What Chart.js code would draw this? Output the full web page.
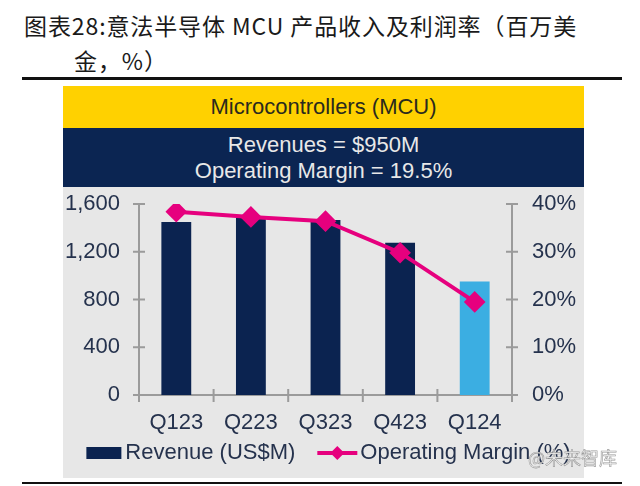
<!DOCTYPE html>
<html lang="zh">
<head>
  <meta charset="UTF-8" />
  <title>意法半导体 MCU 产品收入及利润率</title>
  <script src="https://cdn.jsdelivr.net/npm/chart.js"></script>
  <style>
    body {
      margin: 0;
      width: 640px;
      height: 486px;
      background: #fff;
      position: relative;
      overflow: hidden;
      font-family: "Liberation Sans", Arial, sans-serif;
    }
    .title {
      position: absolute;
      left: 24px;
      top: 8px;
      width: 590px;
      font-family: "Noto Sans CJK SC", sans-serif;
      font-size: 23px;
      line-height: 35px;
      color: #1a1a1a;
      letter-spacing: 0.9px;
    }
    .title .l2 { padding-left: 50px; }
    .rule-top {
      position: absolute;
      left: 22px; top: 77px;
      width: 600px; height: 3px;
      background: #111;
    }
    .rule-bottom {
      position: absolute;
      left: 22px; top: 482px;
      width: 600px; height: 2px;
      background: #111;
    }
    .band-yellow {
      position: absolute;
      left: 63px; top: 86px;
      width: 521px; height: 42px;
      background: #FFD100;
      color: #2a2a1e;
      font-size: 22px;
      text-align: center;
      line-height: 42px;
    }
    .band-navy {
      position: absolute;
      left: 63px; top: 128px;
      width: 521px; height: 59px;
      background: #0B2552;
      color: #e8e8e8;
      font-size: 22px;
      text-align: center;
      line-height: 26px;
      padding-top: 4px;
      box-sizing: border-box;
    }
    .panel {
      position: absolute;
      left: 63px; top: 187px;
      width: 521px; height: 291px;
      background: #E7E7E7;
    }
    .watermark {
      position: absolute;
      left: 528px; top: 444px;
      font-family: "Noto Sans CJK SC", sans-serif;
      font-size: 18px;
      color: #f4f4f4;
      -webkit-text-stroke: 0.6px #9a9a9a;
    }
  </style>
</head>
<body>
  <div class="title">图表28:意法半导体 MCU 产品收入及利润率（百万美<br><span class="l2">金，%）</span></div>
  <div class="rule-top"></div>
  <div class="band-yellow">Microcontrollers (MCU)</div>
  <div class="band-navy">Revenues = $950M<br>Operating Margin = 19.5%</div>
  <div class="panel"><canvas id="mcuChart" width="521" height="291"></canvas></div>
  <div class="watermark">@未来智库</div>
  <div class="rule-bottom"></div>

  <script>
    const quarters = ['Q123', 'Q223', 'Q323', 'Q423', 'Q124'];
    const revenue = [1450, 1490, 1465, 1275, 950];
    const margin = [38.4, 37.3, 36.4, 29.8, 19.5];
    const barColors = ['#0B2350', '#0B2350', '#0B2350', '#0B2350', '#3BAEE2'];

    const revenueLabel = 'Revenue (US$M)';
    const marginLabel = 'Operating Margin (%)';

    const navy = '#0B2350';
    const pink = '#E6007E';
    const axisGray = '#9b9b9b';
    const labelColor = '#25324d';
    const fontFamily = '"Liberation Sans", Arial, sans-serif';

    // axis lines with short ticks crossing them, like the original
    const crossTicks = {
      id: 'crossTicks',
      afterDraw(chart) {
        const { ctx, chartArea: a, scales } = chart;
        ctx.save();
        ctx.strokeStyle = axisGray;
        ctx.lineWidth = 2;
        ctx.beginPath();
        scales.y.ticks.forEach(t => {
          const y = scales.y.getPixelForValue(t.value);
          ctx.moveTo(a.left - 6, y); ctx.lineTo(a.left + 6, y);
        });
        scales.y1.ticks.forEach(t => {
          const y = scales.y1.getPixelForValue(t.value);
          ctx.moveTo(a.right - 6, y); ctx.lineTo(a.right + 6, y);
        });
        const w = (a.right - a.left) / quarters.length;
        for (let i = 0; i <= quarters.length; i++) {
          const x = a.left + i * w;
          ctx.moveTo(x, a.bottom - 6); ctx.lineTo(x, a.bottom + 7);
        }
        ctx.moveTo(a.right, a.bottom); ctx.lineTo(a.right + 6, a.bottom);
        ctx.stroke();
        ctx.restore();
      }
    };

    // legend: dark box for revenue, pink line with diamond for margin
    const legendRow = {
      id: 'legendRow',
      afterDraw(chart) {
        const ctx = chart.ctx;
        ctx.save();
        ctx.font = '22px ' + fontFamily;
        ctx.textBaseline = 'middle';
        const y = 266;
        const w1 = ctx.measureText(revenueLabel).width;
        const w2 = ctx.measureText(marginLabel).width;
        const total = 35 + 4 + w1 + 22 + 40 + 3 + w2;
        let x = (chart.width - total) / 2 + 5;
        ctx.fillStyle = navy;
        ctx.fillRect(x, y - 6, 35, 12);
        x += 39;
        ctx.fillStyle = labelColor;
        ctx.fillText(revenueLabel, x, y);
        x += w1 + 22;
        ctx.strokeStyle = pink;
        ctx.lineWidth = 4;
        ctx.beginPath();
        ctx.moveTo(x, y); ctx.lineTo(x + 40, y);
        ctx.stroke();
        ctx.fillStyle = pink;
        ctx.beginPath();
        ctx.moveTo(x + 20, y - 7); ctx.lineTo(x + 27, y);
        ctx.lineTo(x + 20, y + 7); ctx.lineTo(x + 13, y);
        ctx.closePath();
        ctx.fill();
        x += 43;
        ctx.fillStyle = labelColor;
        ctx.fillText(marginLabel, x, y);
        ctx.restore();
      }
    };

    const noGrid = { display: false, drawTicks: false, tickLength: 0 };
    // y axes: fixed width, and no extra room above/below for the end labels
    const fitY = w => s => { s.width = w; s.paddingTop = 0; s.paddingBottom = 0; };

    new Chart(document.getElementById('mcuChart'), {
      data: {
        labels: quarters,
        datasets: [
          {
            type: 'line',
            label: marginLabel,
            data: margin,
            yAxisID: 'y1',
            borderColor: pink,
            backgroundColor: pink,
            borderWidth: 4,
            pointStyle: 'rectRot',
            pointRadius: 8,
            pointHoverRadius: 8,
            order: 0
          },
          {
            type: 'bar',
            label: revenueLabel,
            data: revenue,
            yAxisID: 'y',
            backgroundColor: barColors,
            barPercentage: 0.4,
            categoryPercentage: 1,
            order: 1
          }
        ]
      },
      options: {
        responsive: false,
        animation: false,
        layout: { padding: { top: 17, bottom: 43, left: 0, right: 0 } },
        plugins: {
          legend: { display: false },
          tooltip: { enabled: false }
        },
        scales: {
          x: {
            grid: noGrid,
            border: { display: true, color: axisGray, width: 2 },
            ticks: {
              color: labelColor,
              font: { size: 22, family: fontFamily },
              padding: 15,
              maxRotation: 0
            },
            afterFit: s => { s.height = 40; }
          },
          y: {
            position: 'left',
            min: 0,
            max: 1600,
            grid: noGrid,
            border: { display: true, color: axisGray, width: 2 },
            ticks: {
              stepSize: 400,
              color: labelColor,
              font: { size: 22, family: fontFamily },
              padding: 19,
              callback: v => v.toLocaleString('en-US')
            },
            afterFit: fitY(76)
          },
          y1: {
            position: 'right',
            min: 0,
            max: 40,
            grid: noGrid,
            border: { display: true, color: axisGray, width: 2 },
            ticks: {
              stepSize: 10,
              color: labelColor,
              font: { size: 22, family: fontFamily },
              padding: 20,
              callback: v => v + '%'
            },
            afterFit: fitY(72)
          }
        }
      },
      plugins: [crossTicks, legendRow]
    });
  </script>
</body>
</html>
